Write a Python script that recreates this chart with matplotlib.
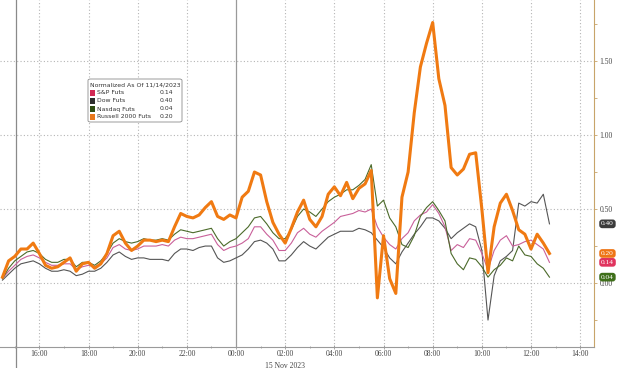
import numpy as np
import matplotlib
matplotlib.use("Agg")
import matplotlib.pyplot as plt
from matplotlib.patches import FancyBboxPatch, Rectangle
from matplotlib.ticker import MultipleLocator, FuncFormatter
import matplotlib.transforms as mtransforms

# time axis: minutes relative to 00:00 on 15 Nov 2023, 15-minute bars from 14:30 (14 Nov)
minutes = np.arange(-570, 766, 15)
hours = minutes / 60.0

russell = [0.04, 0.15, 0.18, 0.23, 0.23, 0.27, 0.20, 0.12, 0.10, 0.11,
           0.14, 0.17, 0.08, 0.13, 0.14, 0.10, 0.13, 0.20, 0.32, 0.35,
           0.27, 0.22, 0.25, 0.29, 0.29, 0.28, 0.29, 0.28, 0.38, 0.47,
           0.45, 0.44, 0.46, 0.51, 0.55, 0.45, 0.43, 0.46, 0.44, 0.58,
           0.62, 0.75, 0.73, 0.55, 0.41, 0.33, 0.27, 0.37, 0.48, 0.56,
           0.43, 0.38, 0.45, 0.60, 0.65, 0.59, 0.68, 0.57, 0.64, 0.67,
           0.76, -0.10, 0.32, 0.03, -0.07, 0.58, 0.75, 1.15, 1.46, 1.62,
           1.76, 1.38, 1.20, 0.78, 0.73, 0.77, 0.87, 0.88, 0.50, 0.07,
           0.38, 0.54, 0.60, 0.49, 0.36, 0.33, 0.23, 0.33, 0.27, 0.20]

nasdaq = [0.03, 0.10, 0.15, 0.18, 0.21, 0.22, 0.20, 0.16, 0.14, 0.14,
          0.16, 0.16, 0.11, 0.14, 0.14, 0.12, 0.15, 0.20, 0.27, 0.30,
          0.28, 0.27, 0.28, 0.30, 0.29, 0.29, 0.30, 0.29, 0.33, 0.36,
          0.35, 0.34, 0.35, 0.36, 0.37, 0.30, 0.25, 0.28, 0.30, 0.34,
          0.38, 0.44, 0.45, 0.40, 0.34, 0.30, 0.30, 0.36, 0.45, 0.50,
          0.48, 0.45, 0.50, 0.55, 0.58, 0.60, 0.63, 0.63, 0.66, 0.70,
          0.80, 0.52, 0.56, 0.44, 0.38, 0.26, 0.24, 0.32, 0.45, 0.51,
          0.55, 0.49, 0.42, 0.20, 0.13, 0.09, 0.17, 0.16, 0.11, 0.04,
          0.09, 0.12, 0.17, 0.15, 0.25, 0.19, 0.18, 0.13, 0.10, 0.04]

spx = [0.03, 0.08, 0.12, 0.16, 0.18, 0.19, 0.17, 0.14, 0.12, 0.12,
       0.13, 0.13, 0.09, 0.11, 0.12, 0.11, 0.13, 0.17, 0.24, 0.26,
       0.23, 0.22, 0.23, 0.25, 0.25, 0.25, 0.26, 0.25, 0.29, 0.31,
       0.30, 0.30, 0.31, 0.32, 0.33, 0.26, 0.22, 0.24, 0.25, 0.27,
       0.30, 0.38, 0.38, 0.33, 0.29, 0.22, 0.22, 0.27, 0.34, 0.37,
       0.33, 0.31, 0.35, 0.38, 0.41, 0.45, 0.46, 0.47, 0.49, 0.48,
       0.50, 0.38, 0.31, 0.26, 0.23, 0.30, 0.34, 0.42, 0.46, 0.48,
       0.53, 0.47, 0.38, 0.22, 0.26, 0.24, 0.30, 0.29, 0.20, 0.09,
       0.22, 0.29, 0.32, 0.25, 0.26, 0.28, 0.29, 0.26, 0.23, 0.14]

dow = [0.02, 0.06, 0.10, 0.13, 0.14, 0.15, 0.13, 0.10, 0.08, 0.08,
       0.09, 0.08, 0.05, 0.06, 0.08, 0.08, 0.10, 0.14, 0.19, 0.21,
       0.18, 0.16, 0.17, 0.17, 0.16, 0.16, 0.16, 0.15, 0.20, 0.23,
       0.23, 0.22, 0.24, 0.25, 0.25, 0.17, 0.14, 0.15, 0.17, 0.19,
       0.23, 0.28, 0.29, 0.27, 0.23, 0.15, 0.15, 0.19, 0.24, 0.28,
       0.25, 0.23, 0.27, 0.31, 0.33, 0.35, 0.35, 0.35, 0.37, 0.36,
       0.34, 0.29, 0.24, 0.17, 0.13, 0.21, 0.27, 0.33, 0.38, 0.44,
       0.44, 0.42, 0.37, 0.30, 0.34, 0.37, 0.40, 0.38, 0.22, -0.25,
       0.05, 0.15, 0.18, 0.22, 0.54, 0.52, 0.55, 0.54, 0.60, 0.40]

names = ["S&P Futs", "Dow Futs", "Nasdaq Futs", "Russell 2000 Futs"]
last_vals = ["0.14", "0.40", "0.04", "0.20"]
key_colors = ["#d22a55", "#2e2e2e", "#2f4d14", "#e8781c"]

c_rty = "#f07a12"
c_spx = "#c9609a"
c_dow = "#555555"
c_ndx = "#4b6a2a"

fig = plt.figure(figsize=(6.2, 3.68), dpi=100)
ax = fig.add_axes([0, 0.057, 0.958, 0.943])

ax.plot(hours, dow, color=c_dow, lw=0.8)
ax.plot(hours, spx, color=c_spx, lw=0.8)
ax.plot(hours, nasdaq, color=c_ndx, lw=0.8)
ax.plot(hours, russell, color=c_rty, lw=2.2, solid_joinstyle="round")

ax.set_xlim(-9.6, 14.56)
ax.set_ylim(-0.432, 1.912)

# grid
for v in [0.0, 0.5, 1.0, 1.5]:
    ax.axhline(v, color="#b5b5b5", lw=0.8, ls=(0, (1, 2)), zorder=0)
for h in range(-8, 15, 2):
    if h == 0:
        ax.axvline(h, color="#9a9a9a", lw=0.9, zorder=0)
    else:
        ax.axvline(h, color="#b5b5b5", lw=0.8, ls=(0, (1, 2)), zorder=0)
ax.axvline(-8.95, color="#8a8a8a", lw=0.9, zorder=0)
ax.plot([-8.95, -8.95], [-0.432, -0.62], color="#8a8a8a", lw=0.9, clip_on=False)

for s in ["left", "top"]:
    ax.spines[s].set_visible(False)
ax.spines["bottom"].set_color("#9a9a9a")
ax.spines["bottom"].set_linewidth(0.8)
ax.spines["right"].set_color("#c8a46a")
ax.spines["right"].set_linewidth(0.8)

ax.xaxis.set_major_locator(MultipleLocator(2))
ax.xaxis.set_minor_locator(MultipleLocator(1))
ax.xaxis.set_major_formatter(FuncFormatter(lambda h, p: "%02d:00" % (int(round(h)) % 24)))
ax.tick_params(axis="x", which="both", direction="inout", length=3, width=0.6,
               color="#9a9a9a", labelsize=5.5, pad=1, labelcolor="#444444")
ax.tick_params(axis="x", which="minor", length=2)

ax.yaxis.tick_right()
ax.yaxis.set_major_locator(MultipleLocator(0.5))
ax.yaxis.set_minor_locator(MultipleLocator(0.25))
ax.yaxis.set_major_formatter(FuncFormatter(lambda v, p: "%.2f" % v))
ax.tick_params(axis="y", which="both", direction="out", length=2, width=0.6,
               color="#c8a46a", labelsize=5.5, pad=2, labelcolor="#444444")
for lab in ax.get_xticklabels() + ax.get_yticklabels():
    lab.set_family("Liberation Serif")

ax.text(2.0, -0.53, "15 Nov 2023", ha="center", va="top", fontsize=5.5,
        family="Liberation Serif", color="#444444", clip_on=False)

# last value tags on the right axis
trans = mtransforms.blended_transform_factory(ax.transAxes, ax.transData)
tag_vals = [0.40, 0.20, 0.14, 0.04]
tag_cols = ["#3c3c3c", "#ee7516", "#e0345e", "#3f6f1a"]
for v, c in zip(tag_vals, tag_cols):
    ax.text(1.012, v, "%.2f" % v, transform=trans, ha="left", va="center",
            fontsize=5.3, color="white", family="Liberation Serif", zorder=10,
            clip_on=False,
            bbox=dict(boxstyle="round,pad=0.25,rounding_size=0.4", fc=c, ec="none"))

# legend box
def fx(px):
    return px / 620.0


def fy(py):
    return 1 - py / 368.0


box = FancyBboxPatch((fx(88), fy(122)), (182 - 88) / 620.0, (122 - 79) / 368.0,
                     boxstyle="round,pad=0,rounding_size=0.004", transform=fig.transFigure,
                     fc="white", ec="#8c8c8c", lw=0.6, zorder=20)
fig.patches.append(box)
fig.text(fx(89.5), fy(85), "Normalized As Of 11/14/2023", fontsize=4.4,
         color="#333333", va="center", zorder=21)
for k, (n, val, c) in enumerate(zip(names, last_vals, key_colors)):
    yy = 93 + 8 * k
    fig.patches.append(Rectangle((fx(89.5), fy(yy + 2.6)), 5.5 / 620.0, 5.2 / 368.0,
                                 transform=fig.transFigure, fc=c, ec="none", zorder=21))
    fig.text(fx(97), fy(yy), n, fontsize=4.4, color="#333333", va="center", zorder=21)
    fig.text(fx(160), fy(yy), val, fontsize=4.4, color="#333333", va="center", zorder=21)

fig.savefig("out.png", dpi=100, facecolor="white")
